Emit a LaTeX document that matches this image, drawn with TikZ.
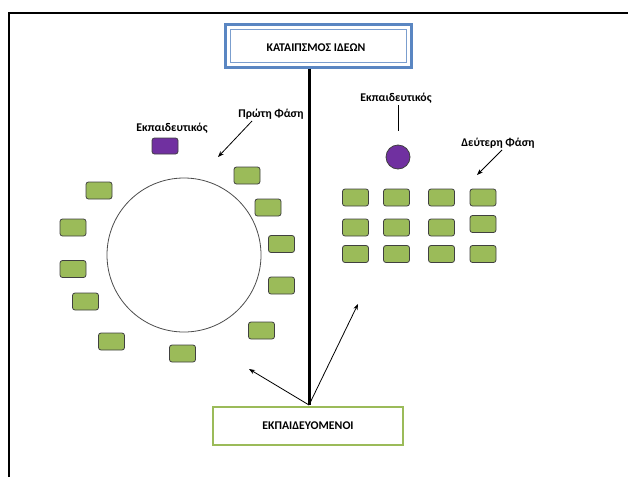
\documentclass[tikz,border=0pt]{standalone}
\usepackage{fontspec}
\setmainfont{Carlito}
\usetikzlibrary{arrows.meta}
\definecolor{sgreen}{HTML}{9BBB59}
\definecolor{spurple}{HTML}{7030A0}
\definecolor{sblue}{HTML}{5A86C2}
\begin{document}
\begin{tikzpicture}[x=1pt,y=-1pt,
  seat/.style={draw=black!75, fill=sgreen, rounded corners=2.5pt, minimum width=26pt, minimum height=17pt, inner sep=0pt, line width=0.8pt},
  lbl/.style={font=\bfseries\fontsize{11.8}{13}\selectfont, inner sep=0pt},
  arr/.style={-{Stealth[length=6pt,width=4.5pt]}, line width=0.8pt},
  thin/.style={line width=0.8pt}]
\useasboundingbox (0,0) rectangle (628,477);
% page frame
\draw[line width=2.5pt] (9,477) -- (9,13) -- (628,13);
% title box
\node[draw=sblue, line width=3pt, minimum width=186pt, minimum height=43pt, inner sep=0pt] (tb) at (318,45.5) {};
\node[draw=sblue!80, line width=0.8pt, minimum width=176pt, minimum height=33pt, inner sep=0pt] (tbi) at (318,45.5) {};
\node[lbl] (tt) at (316,48) {ΚΑΤΑΙΠΣΜΟΣ ΙΔΕΩΝ};
% bottom box
\node[draw=sgreen, line width=2.5pt, minimum width=190pt, minimum height=38pt, inner sep=0pt] (bx) at (308,426) {};
\node[lbl] (bt) at (308,426) {ΕΚΠΑΙΔΕΥΟΜΕΝΟΙ};
\coordinate (vb) at (309,405);
\draw[line width=3pt] (tb.south -| vb) -- (vb);
\coordinate (a1) at (249,369);
\coordinate (a2) at (358,304);
\draw[arr] (vb) -- (a1);
\draw[arr] (vb) -- (a2);
% first phase
\node[draw=black!70, line width=0.8pt, circle, minimum size=154pt, inner sep=0pt] (table) at (184,255) {};
\node[lbl] (t1l) at (172,128) {Εκπαιδευτικός};
\node[draw=black!75, fill=spurple, rounded corners=2.5pt, minimum width=26pt, minimum height=16pt, inner sep=0pt, line width=0.8pt] (t1) at (165,146) {};
\node[lbl] (p1) at (271,114) {Πρώτη Φάση};
\coordinate (p1s) at (252,121);
\coordinate (p1e) at (218,157);
\draw[arr] (p1s) -- (p1e);
\node[seat] (s1) at (247,175.5) {};
\node[seat] (s2) at (268,207.5) {};
\node[seat] (s3) at (281.5,244) {};
\node[seat] (s4) at (281.5,285.5) {};
\node[seat] (s5) at (261.5,330.5) {};
\node[seat] (s6) at (182.5,353.5) {};
\node[seat] (s7) at (111.5,341.5) {};
\node[seat] (s8) at (85.5,301.5) {};
\node[seat] (s9) at (73,269) {};
\node[seat] (s10) at (73,227.5) {};
\node[seat] (s11) at (99,190.5) {};
% second phase
\node[lbl] (t2l) at (396,98) {Εκπαιδευτικός};
\node[draw=black!75, fill=spurple, circle, minimum size=24pt, inner sep=0pt, line width=0.8pt] (t2) at (398,157) {};
\coordinate (t2s) at (398,105);
\coordinate (t2e) at (398,131);
\draw[thin] (t2s) -- (t2e);
\node[lbl] (p2) at (498,143) {Δεύτερη Φάση};
\coordinate (p2s) at (502,150);
\coordinate (p2e) at (477,175);
\draw[arr] (p2s) -- (p2e);
\node[seat] (g11) at (355.5,197.5) {};
\node[seat] (g12) at (396.5,197.5) {};
\node[seat] (g13) at (441.5,197.5) {};
\node[seat] (g14) at (483,197.5) {};
\node[seat] (g21) at (355.5,227.5) {};
\node[seat] (g22) at (396.5,227.5) {};
\node[seat] (g23) at (441.5,227.5) {};
\node[seat] (g24) at (483,224) {};
\node[seat] (g31) at (355.5,254) {};
\node[seat] (g32) at (396.5,254) {};
\node[seat] (g33) at (441.5,254) {};
\node[seat] (g34) at (483,254) {};
\end{tikzpicture}
\end{document}
